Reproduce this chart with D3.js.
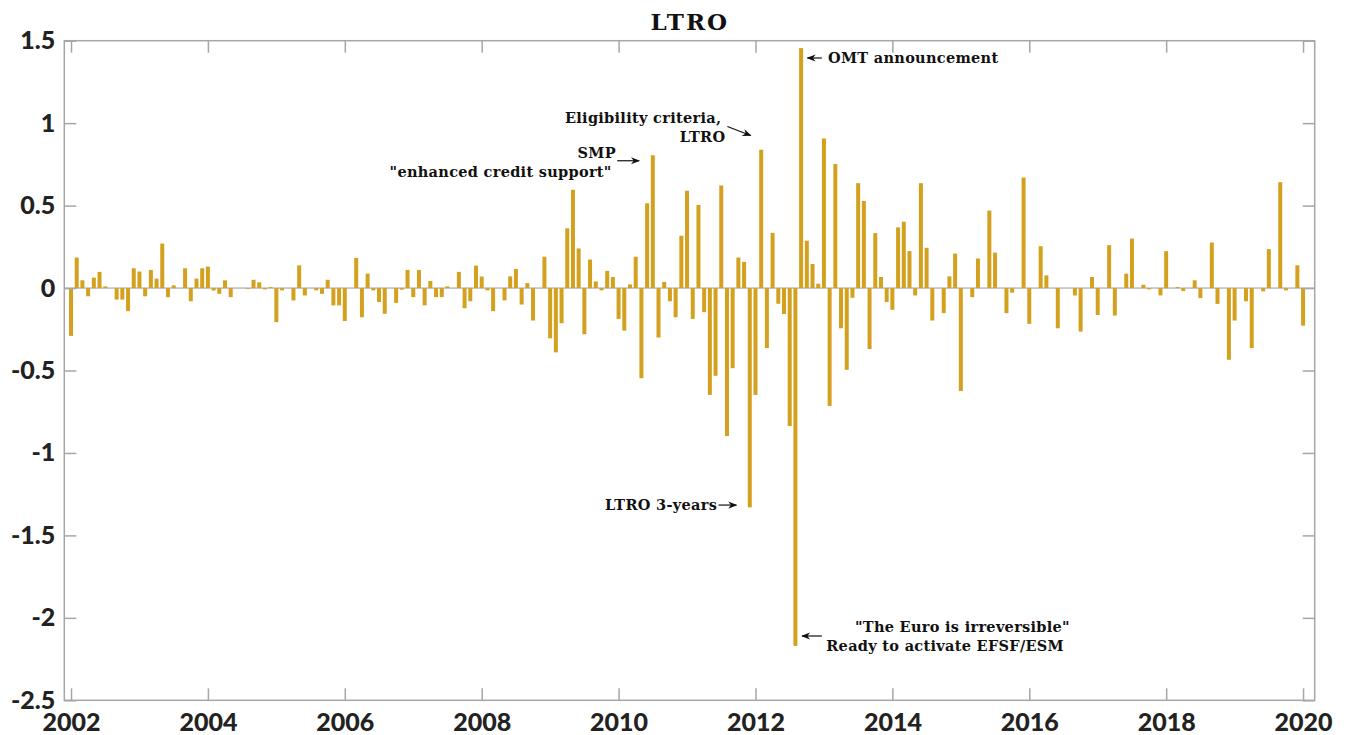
<!DOCTYPE html>
<html>
<head>
<meta charset="utf-8">
<script src="https://cdn.jsdelivr.net/npm/d3@7"></script>
<style>
  body { margin: 0; background: #fff; }
  #chart svg { display: block; }
</style>
</head>
<body>
<div id="chart"></div>
<script>
// monthly values, Jan 2002 .. Jan 2020
const startYear = 2002;
const values2002_2004 = [-0.29, 0.185, 0.047, -0.05, 0.063, 0.098, 0.01, 0, -0.07, -0.07, -0.14, 0.12,
  0.10, -0.05, 0.11, 0.057, 0.27, -0.055, 0.016, 0, 0.12, -0.08, 0.057, 0.12,
  0.13, -0.015, -0.035, 0.047, -0.055, 0, 0, -0.005, 0.05, 0.035, -0.008, 0.006];
const values2005_2007 = [-0.207, -0.014, 0, -0.075, 0.138, -0.045, 0, -0.014, -0.035, 0.05, -0.105, -0.105,
  -0.20, 0, 0.183, -0.177, 0.087, -0.014, -0.085, -0.156, 0, -0.09, -0.01, 0.11,
  -0.055, 0.11, -0.105, 0.043, -0.055, -0.055, 0.01, 0, 0.098, -0.122, -0.08, 0.136];
const values2008_2010 = [0.07, -0.014, -0.14, 0, -0.075, 0.071, 0.116, -0.10, 0.03, -0.197, 0, 0.19,
  -0.305, -0.39, -0.213, 0.362, 0.596, 0.24, -0.28, 0.173, 0.04, -0.014, 0.104, 0.067,
  -0.187, -0.258, 0.022, 0.19, -0.547, 0.514, 0.805, -0.30, 0.037, -0.08, -0.177, 0.317];
const values2011_2013 = [0.59, -0.187, 0.504, -0.146, -0.648, -0.532, 0.622, -0.898, -0.486, 0.185, 0.159, -1.33,
  -0.648, 0.839, -0.364, 0.335, -0.095, -0.157, -0.837, -2.17, 1.455, 0.287, 0.146, 0.026,
  0.907, -0.715, 0.752, -0.244, -0.496, -0.059, 0.636, 0.528, -0.37, 0.333, 0.067, -0.085];
const values2014_2016 = [-0.132, 0.368, 0.402, 0.224, -0.045, 0.636, 0.244, -0.197, 0, -0.152, 0.071, 0.209,
  -0.624, 0, -0.055, 0.179, 0, 0.47, 0.215, 0, -0.152, -0.028, 0, 0.67,
  -0.217, 0, 0.254, 0.077, 0, -0.244, 0, 0, -0.045, -0.264, 0, 0.067];
const values2017_2020 = [-0.163, 0, 0.26, -0.167, 0, 0.087, 0.30, 0, 0.02, -0.008, 0, -0.045,
  0.224, 0, 0.006, -0.018, 0, 0.047, -0.061, 0, 0.276, -0.096, 0, -0.435,
  -0.197, 0, -0.08, -0.364, 0, -0.02, 0.236, 0, 0.642, -0.014, 0, 0.138,
  -0.228];

const yTicks = [1.5, 1, 0.5, 0, -0.5, -1, -1.5, -2, -2.5];
const xTicks = [2002, 2004, 2006, 2008, 2010, 2012, 2014, 2016, 2018, 2020];

// annotation texts, anchored in data units (year, value)
const annotations = [
  { lines: ["OMT announcement"], x: [2013.06], y: [1.395], anchor: "start", arrow: [[2012.97, 1.395], [2012.76, 1.395]] },
  { lines: ["Eligibility criteria,", "LTRO"], x: [2011.50, 2011.56], y: [1.034, 0.918], anchor: "end", arrow: [[2011.59, 0.98], [2011.93, 0.925]] },
  { lines: ["SMP", "\"enhanced credit support\""], x: [2009.96, 2009.90], y: [0.819, 0.705], anchor: "end", arrow: [[2009.98, 0.772], [2010.30, 0.772]] },
  { lines: ["LTRO 3-years"], x: [2011.44], y: [-1.316], anchor: "end", arrow: [[2011.46, -1.316], [2011.72, -1.316]] },
  { lines: ["\"The Euro is irreversible\"", "Ready to activate EFSF/ESM"], x: [2016.595, 2016.507], y: [-2.054, -2.169], anchor: "end", arrow: [[2012.97, -2.11], [2012.68, -2.11]] }
];

const monthly = [].concat(values2002_2004, values2005_2007, values2008_2010,
  values2011_2013, values2014_2016, values2017_2020)
  .map((v, i) => ({ t: startYear + i / 12, v: v }));

let widthParam = 1353, heightParam = 735;
let svg = d3.select("#chart").append("svg")
  .attr("width", widthParam)
  .attr("height", heightParam);
let margin = { top: 40.7, right: 38.3, bottom: 34.7, left: 64.3 };
let width = widthParam - margin.left - margin.right;
let height = heightParam - margin.top - margin.bottom;
let g = svg.append("g")
  .attr("transform", "translate(" + margin.left + "," + margin.top + ")");

var x = d3.scaleLinear().domain([2001.902, 2020.17]).range([0, width]);
var y = d3.scaleLinear().domain([-2.5, 1.5]).range([height, 0]);

const axisColor = "#a6a6a6";
const tickFont = "Lato, 'Open Sans', sans-serif";
const barColor = "#d4a11f";

// zero baseline
g.append("line")
  .attr("x1", 0).attr("x2", width)
  .attr("y1", y(0)).attr("y2", y(0))
  .attr("stroke", "#9a9a9a")
  .attr("stroke-width", 1);

// bars
let barW = (x(startYear + 1 / 12) - x(startYear)) * 0.7;
g.selectAll("rect.bar")
  .data(monthly)
  .enter()
  .append("rect")
  .attr("class", "bar")
  .attr("x", d => x(d.t) - barW / 2)
  .attr("width", barW)
  .attr("y", d => y(Math.max(0, d.v)))
  .attr("height", d => Math.abs(y(d.v) - y(0)))
  .attr("fill", barColor);

// axes: box with inward ticks
function styleAxis(sel) {
  sel.select(".domain").remove();
  sel.selectAll(".tick line").attr("stroke", axisColor).attr("stroke-width", 1.5);
  sel.selectAll(".tick text")
    .attr("fill", "#222")
    .style("font-family", tickFont)
    .style("font-weight", 900)
    .style("font-size", "25px");
}

g.append("g")
  .attr("transform", "translate(0," + height + ")")
  .call(d3.axisBottom(x).tickValues(xTicks).tickFormat(d3.format("d")).tickSizeInner(-12).tickSizeOuter(0).tickPadding(13))
  .call(styleAxis);
g.append("g")
  .call(d3.axisTop(x).tickValues(xTicks).tickSizeInner(-12).tickSizeOuter(0).tickFormat(""))
  .call(styleAxis);
g.append("g")
  .call(d3.axisLeft(y).tickValues(yTicks).tickFormat(d => d).tickSizeInner(-12).tickSizeOuter(0).tickPadding(9))
  .call(styleAxis);
g.append("g")
  .attr("transform", "translate(" + width + ",0)")
  .call(d3.axisRight(y).tickValues(yTicks).tickSizeInner(-12).tickSizeOuter(0).tickFormat(""))
  .call(styleAxis);

g.append("rect")
  .attr("width", width)
  .attr("height", height)
  .attr("fill", "none")
  .attr("stroke", axisColor)
  .attr("stroke-width", 1.5);

// title
svg.append("text")
  .attr("x", margin.left + x(2011.04))
  .attr("y", 29.5)
  .attr("text-anchor", "middle")
  .style("font-family", "'DejaVu Serif', serif")
  .style("font-weight", "bold")
  .style("font-size", "23px")
  .style("letter-spacing", "2px")
  .attr("fill", "#111")
  .text("LTRO");

// annotations
svg.append("defs").append("marker")
  .attr("id", "arrowhead")
  .attr("viewBox", "0 0 10 10")
  .attr("refX", 9).attr("refY", 5)
  .attr("markerWidth", 9).attr("markerHeight", 9)
  .attr("markerUnits", "userSpaceOnUse")
  .attr("orient", "auto")
  .append("path")
  .attr("d", "M0,1 L10,5 L0,9 L3,5 Z")
  .attr("fill", "#111");

let notes = g.append("g")
  .style("font-family", "'DejaVu Serif', serif")
  .style("font-weight", "bold")
  .style("font-size", "14.5px")
  .style("letter-spacing", "0.3px")
  .attr("fill", "#111");

annotations.forEach(a => {
  a.lines.forEach((line, k) => {
    notes.append("text")
      .attr("x", x(a.x[k]))
      .attr("y", y(a.y[k]))
      .attr("dy", "0.35em")
      .attr("text-anchor", a.anchor)
      .text(line);
  });
  if (a.arrow) {
    notes.append("line")
      .attr("x1", x(a.arrow[0][0])).attr("y1", y(a.arrow[0][1]))
      .attr("x2", x(a.arrow[1][0])).attr("y2", y(a.arrow[1][1]))
      .attr("stroke", "#111")
      .attr("stroke-width", 1.2)
      .attr("marker-end", "url(#arrowhead)");
  }
});
</script>
</body>
</html>
